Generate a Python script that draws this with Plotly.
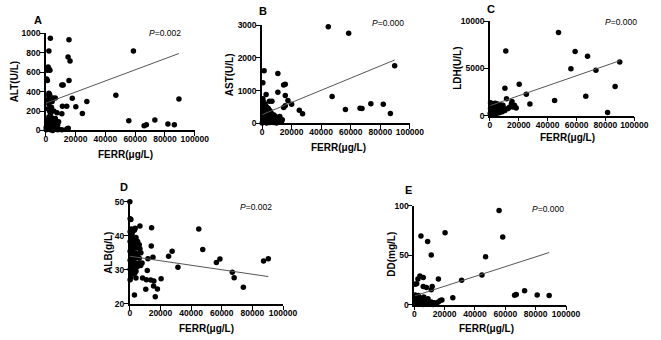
import plotly.graph_objects as go

W, H = 661, 340

# ---------------- data ----------------
FERR_TICKS = [0, 20000, 40000, 60000, 80000, 100000]
FERR_TICK_LABELS = ["0", "20000", "40000", "60000", "80000", "100000"]
X_TITLE = "FERR(μg/L)"

# Panel A: ALT
alt_ferr = [3000, 15500, 58800, 2000, 14900, 16200, 1500, 2000, 900, 2700, 500, 1000, 15500,
            10700, 11600, 2000, 2500, 47000, 17700, 4600, 6300, 89400, 27500, 20100, 11100,
            14000, 24500, 55700, 73200, 82000, 86300, 66000, 67500, 15000, 14000, 7900,
            1970, 3720, 870, 1970, 4150, 1530, 2400, 5250, 7430, 10700, 3060, 1970, 4150, 6340,
            870, 3060, 5250, 8530, 1970, 4150, 220, 6340, 8530, 1530, 3060, 10700, 4590, 870,
            6340, 7870, 220, 1090, 2620, 3720]
alt_vals = [950, 935, 820, 820, 757, 717, 655, 635, 620, 620, 530, 515, 515,
            470, 470, 385, 370, 363, 333, 335, 335, 325, 300, 245, 250,
            250, 175, 100, 108, 68, 58, 48, 58, 22, 15, 8,
            357, 333, 313, 273, 300, 223, 200, 200, 183, 173, 173, 140, 130, 123,
            107, 90, 80, 90, 57, 40, 33, 23, 13, 13, 7, 7, 0, 73,
            73, 57, 7, 40, 113, 240]
ALT_FIT = [282, 0.00572]          # intercept, slope
ALT_TICKS = [0, 200, 400, 600, 800, 1000]

# Panel B: AST
ast_ferr = [44800, 58600, 89700, 1400, 10700, 550, 15700, 14600, 10700, 2750, 4950, 15700,
            17500, 47400, 20000, 14600, 15700, 25200, 27400, 56400, 66300, 67600, 73600,
            82000, 86800, 11100, 12000, 13700, 6700,
            550, 990, 2090, 550, 3190, 4290, 1430, 5390, 2750, 550, 6490, 4290, 2090, 8030,
            990, 3630, 5830, 9350, 550, 2750, 4950, 7150, 10230, 1430, 4290, 6490, 8690,
            11550, 550, 2750, 5390, 8030, 13090, 110, 3190, 9790]
ast_vals = [2960, 2760, 1760, 1610, 1520, 1240, 1190, 1170, 950, 875, 675, 845,
            695, 815, 576, 477, 536, 397, 288, 417, 457, 447, 596,
            576, 298, 150, 200, 100, 675,
            745, 646, 576, 517, 497, 447, 397, 377, 348, 298, 298, 278, 248, 248,
            199, 199, 179, 199, 149, 129, 119, 119, 149, 79, 70, 60, 79,
            79, 40, 20, 20, 20, 40, 0, 0, 0]
AST_FIT = [260, 0.0187]
AST_TICKS = [0, 1000, 2000, 3000]

# Panel C: LDH
ldh_ferr = [47500, 11000, 59000, 67600, 56100, 73400, 89900, 20300, 10400, 86700, 25200,
            66400, 11500, 27700, 44800, 81500, 15300, 14900, 16000, 12600, 10400, 18200,
            13500, 17000,
            450, 1800, 3600, 5400, 7200, 900, 2700, 4500, 6300, 8100, 450, 2250, 4050, 5850,
            7650, 1350, 3150, 4950, 6750, 225, 2030, 3830, 5630, 900, 2700, 9000, 9900, 8560]
ldh_vals = [8800, 6850, 6780, 6300, 4970, 4800, 5690, 3320, 2910, 3080, 2260,
            2055, 1780, 1230, 1610, 340, 1500, 1270, 925, 750, 550, 820,
            900, 1100,
            1370, 1267, 1300, 1233, 1165, 1028, 959, 993, 925, 856, 754, 685, 651, 719,
            582, 480, 411, 445, 343, 240, 206, 137, 274, 69, 34, 1096, 754, 411]
LDH_FIT = [1050, 0.053]
LDH_TICKS = [0, 5000, 10000]

# Panel D: ALB
alb_ferr = [0, 200, 700, 1000, 3500, 6600, 14200, 45000, 47600, 27600, 25300, 14000, 15100,
            31400, 56500, 58800, 87300, 90400, 66900, 68100, 74100, 8300, 10800, 13600,
            15700, 10400, 15500, 16600, 18000, 20400, 3000, 4000, 200, 11400, 11800, 8000, 7100,
            210, 1490, 2970, 850, 2340, 4030, 210, 1910, 3610, 5100, 6160, 640, 2340, 4460,
            6580, 210, 1490, 3180, 5310, 7220, 850, 2550, 4030, 6160, 210, 1910, 3610, 5730,
            1060, 2760, 4880, 210, 1910, 4030, 1490, 3180, 640]
alb_vals = [50, 45.0, 44.8, 42, 42.2, 42.9, 42.4, 42, 36, 35.5, 34, 37, 33.7,
            30.8, 32.2, 33.2, 32.6, 33.3, 29.3, 27.7, 24.9, 27.6, 27.1, 27.0,
            26.7, 24.3, 25.3, 22.1, 24.4, 27.4, 22.6, 27.6, 27.1, 29.8, 33.3, 32.0, 31.3,
            41.2, 40.7, 41.6, 39.7, 39.3, 39.5, 38.3, 38.1, 37.8, 38.3, 37.4, 36.9, 36.6, 36.4,
            36.2, 35.5, 35.3, 35.0, 34.7, 35.0, 34.0, 33.8, 33.6, 33.4, 32.8, 32.6, 32.1, 31.9,
            31.5, 31.2, 30.9, 30.2, 30.0, 29.6, 28.8, 29.0, 27.9]
ALB_FIT = [34.0, -0.000066]
ALB_TICKS = [20, 30, 40, 50]

# Panel E: DD
dd_ferr = [55900, 58300, 4400, 20300, 8800, 11200, 47000, 44600, 31200, 3700, 5900, 2400,
           15900, 1600, 500, 5900, 8000, 11800, 11200, 25400, 66100, 67200, 72700, 81000, 88900,
           530, 1600, 2660, 3730, 1170, 4790, 6920, 9050, 11180, 13310, 14380, 15870, 17150,
           18210, 7990, 4790, 2660, 530, 1600, 3730, 5860, 9690, 12250, 530, 6280, 8410]
dd_vals = [95, 68.3, 69.3, 72.5, 63.7, 50, 48.4, 30, 24.5, 28.8, 27.5, 26,
           25.8, 21, 20.5, 18.3, 17.3, 18.3, 15, 6.9, 9.5, 10.1, 14, 9.8, 9.2,
           9.8, 8.5, 9.2, 6.9, 5.9, 5.2, 4.6, 5.9, 2.6, 2.0, 0.3, 2.6, 4.2,
           4.6, 3.3, 2.6, 3.6, 2.6, 1.3, 0.7, 0, 0.3, 0, 4.6, 7.8, 1.3]
DD_FIT = [8.7, 0.000494]
DD_TICKS = [0, 50, 100]

# ---------------- layout helpers ----------------
FONT = "Liberation Sans, Arial, sans-serif"

panels = [
    dict(letter="A", x=alt_ferr, y=alt_vals, fit=ALT_FIT, yt=ALT_TICKS, ytitle="ALT(U/L)", p="0.002",
         box=(45, 197.5, 29.3, 129.3), let_xy=(37, 15), yt_xy=(13, 79), xt_xy=(127, 154), p_xy=(185, 29)),
    dict(letter="B", x=ast_ferr, y=ast_vals, fit=AST_FIT, yt=AST_TICKS, ytitle="AST(U/L)", p="0.000",
         box=(266.5, 418, 21, 121.7), let_xy=(267, 6), yt_xy=(234, 72), xt_xy=(345, 147), p_xy=(414, 19)),
    dict(letter="C", x=ldh_ferr, y=ldh_vals, fit=LDH_FIT, yt=LDH_TICKS, ytitle="LDH(U/L)", p="0.000",
         box=(500, 648, 16.7, 114), let_xy=(501, 4), yt_xy=(466, 65), xt_xy=(580, 137), p_xy=(653, 18)),
    dict(letter="D", x=alb_ferr, y=alb_vals, fit=ALB_FIT, yt=ALB_TICKS, ytitle="ALB(g/L)", p="0.002",
         box=(131, 288, 202.7, 308), let_xy=(125, 188), yt_xy=(109, 255), xt_xy=(210, 333), p_xy=(279, 208)),
    dict(letter="E", x=dd_ferr, y=dd_vals, fit=DD_FIT, yt=DD_TICKS, ytitle="DD(mg/L)", p="0.000",
         box=(422.5, 578, 206.7, 308.7), let_xy=(417, 191), yt_xy=(399, 257), xt_xy=(497, 333), p_xy=(578, 210)),
]

fig = go.Figure()
annotations = []
layout = {}

def px(x):
    return x / W

def py(y):
    return 1 - y / H

def note(text, xy, size, weight="normal", angle=0, xanchor="center"):
    return dict(text=text, x=px(xy[0]), y=py(xy[1]), xref="paper", yref="paper",
                showarrow=False, textangle=angle, xanchor=xanchor, yanchor="middle",
                font=dict(family=FONT, size=size, color="black", weight=weight))

for i, p in enumerate(panels, start=1):
    sx = "" if i == 1 else str(i)
    xa, ya = "x" + sx, "y" + sx
    x0, x1, y0, y1 = p["box"]
    fig.add_trace(go.Scatter(x=p["x"], y=p["y"], mode="markers", xaxis=xa, yaxis=ya,
                             marker=dict(color="black", size=5.5), cliponaxis=False,
                             showlegend=False, hoverinfo="skip"))
    a, b = p["fit"]
    lx = [min(p["x"]), max(p["x"])]
    fig.add_trace(go.Scatter(x=lx, y=[a + b * v for v in lx], mode="lines", xaxis=xa, yaxis=ya,
                             line=dict(color="#555555", width=1), showlegend=False, hoverinfo="skip"))
    common = dict(showline=True, linecolor="black", linewidth=1.6, ticks="outside", ticklen=4,
                  tickwidth=1.4, tickcolor="black", showgrid=False, zeroline=False,
                  tickfont=dict(family=FONT, size=8.5, color="black", weight="bold"))
    layout["xaxis" + sx] = dict(domain=[px(x0), px(x1)], range=[0, 100000], anchor=ya,
                                tickvals=FERR_TICKS, ticktext=FERR_TICK_LABELS,
                                ticklabelstandoff=-4, **common)
    layout["yaxis" + sx] = dict(domain=[py(y1), py(y0)], range=[p["yt"][0], p["yt"][-1]], anchor=xa,
                                tickvals=p["yt"], ticktext=[str(v) for v in p["yt"]],
                                ticklabelstandoff=-2, **common)
    annotations.append(note("<b>" + p["letter"] + "</b>", p["let_xy"], 11))
    annotations.append(note(p["ytitle"], p["yt_xy"], 10, weight="bold", angle=-90))
    annotations.append(note(X_TITLE, p["xt_xy"], 10, weight="bold"))
    annotations.append(note("<i>P</i>=" + p["p"], p["p_xy"], 8.5, xanchor="right"))

fig.update_layout(width=W, height=H, margin=dict(l=0, r=0, t=0, b=0),
                  paper_bgcolor="white", plot_bgcolor="white",
                  annotations=annotations, **layout)
fig.write_html("out.html", config={"displayModeBar": False},
               post_script="document.body.style.margin='0';")
